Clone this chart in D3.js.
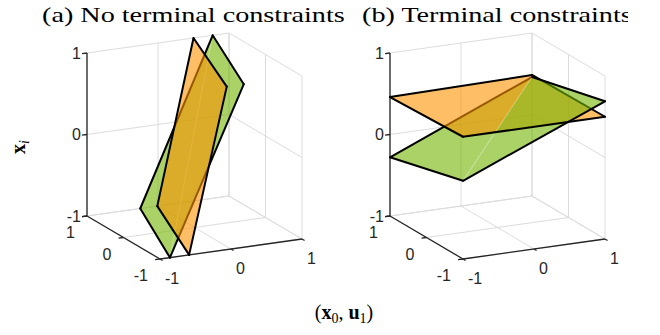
<!DOCTYPE html>
<html>
<head>
<meta charset="utf-8">
<script src="https://cdn.jsdelivr.net/npm/d3@7"></script>
<style>
  body { margin: 0; background: #fff; }
  svg { display: block; }
</style>
</head>
<body>
<script>
var W = 660, H = 335;

// ticks shared by the three axes (x0, u1, xi)
var tickValues = [-1, 0, 1];
var tickLabels = ['-1', '0', '1'];

var panelTitles = ['(a) No terminal constraints', '(b) Terminal constraints'];

// polygon corners, order: top, right, bottom, left  (x0, u1, xi)
// panel (a): no terminal constraints (planes cut by the box)
var aOrangeX0 = [0.50, -0.06, -0.59, -0.01];
var aOrangeU1 = [1, -1, -1, 1];
var aOrangeXi = [1, 1, -1, -1];
var aGreenX0 = [0.77, 0.18, -0.86, -0.25];
var aGreenU1 = [1, -1, -1, 1];
var aGreenXi = [1, 1, -1, -1];
// panel (b): terminal constraints
var bOrangeX0 = [1, 1, -1, -1];
var bOrangeU1 = [1, -1, -1, 1];
var bOrangeXi = [0.485, 0.50, 0.50, 0.46];
var bGreenX0 = [1, 1, -1, -1];
var bGreenU1 = [1, -1, -1, 1];
var bGreenXi = [0.46, 0.69, -0.04, -0.28];

var COLORS = { orange: '#fc9300', green: '#71b400' };
var AXIS = '#262626', GRID = '#dcdcdc';
var SANS = "'Liberation Sans', Arial, sans-serif";
var SERIF = "'Liberation Serif', 'Times New Roman', serif";

// painting order of the translucent faces (corner indices) and edges (edge k joins corner k and k+1)
var surfaceSteps = [
  // (a) green lies behind orange
  [['fill', 'green', [0, 1, 2, 3]], ['seam', 'green'], ['edges', 'green', [0, 1, 2, 3]],
   ['fill', 'orange', [0, 1, 2, 3]], ['edges', 'orange', [0, 1, 2, 3]]],
  // (b) orange sits between the two triangles of the green patch
  [['fill', 'green', [0, 2, 3]], ['edges', 'green', [2, 3]],
   ['fill', 'orange', [0, 1, 2, 3]], ['edges', 'orange', [0, 2, 3]],
   ['fill', 'green', [0, 1, 2]], ['seam', 'green'], ['edges', 'green', [0, 1]],
   ['edges', 'orange', [1]]]
];

var svg = d3.select('body').append('svg')
    .attr('width', W).attr('height', H);

// plot box: screen vectors of the full x0, u1 and xi ranges
var ex = [142, -20], ey = [-73, -43], ez = [0, -163];
var panelOrigins = [[160, 259], [463, 259]];

var sx = d3.scaleLinear().domain([-1, 1]).range([0, 1]);
var sy = d3.scaleLinear().domain([-1, 1]).range([0, 1]);
var sz = d3.scaleLinear().domain([-1, 1]).range([0, 1]);

var projector = function(o) {
  return function(p) {
    var a = sx(p[0]), b = sy(p[1]), c = sz(p[2]);
    return [o[0] + a * ex[0] + b * ey[0] + c * ez[0],
            o[1] + a * ex[1] + b * ey[1] + c * ez[1]];
  };
};
var line = d3.line();

var zip = function(xs, ys, zs) {
  return xs.map(function(v, k) { return [v, ys[k], zs[k]]; });
};

var drawPanel = function(i, surfaces) {
  var proj = projector(panelOrigins[i]);
  var g = svg.append('g');

  // back walls and floor grid
  var gridSegs = [];
  tickValues.forEach(function(t) {
    gridSegs.push([[t, 1, -1], [t, 1, 1]], [[-1, 1, t], [1, 1, t]],
                  [[1, t, -1], [1, t, 1]], [[1, -1, t], [1, 1, t]],
                  [[t, -1, -1], [t, 1, -1]], [[-1, t, -1], [1, t, -1]]);
  });
  g.append('g').selectAll('path').data(gridSegs).join('path')
      .attr('d', function(s) { return line(s.map(proj)); })
      .attr('fill', 'none').attr('stroke', GRID).attr('stroke-width', 1);

  // axis lines and ticks
  var axisSegs = [[[-1, 1, -1], [-1, 1, 1]],
                  [[-1, -1, -1], [-1, 1, -1]],
                  [[-1, -1, -1], [1, -1, -1]]];
  var tl = 0.07;
  tickValues.forEach(function(t) {
    axisSegs.push([[-1, 1, t], [-1 - tl, 1, t]]);
    axisSegs.push([[-1, t, -1], [-1 - tl, t, -1]]);
    axisSegs.push([[t, -1, -1], [t, -1 - tl, -1]]);
  });
  g.append('g').selectAll('path').data(axisSegs).join('path')
      .attr('d', function(s) { return line(s.map(proj)); })
      .attr('fill', 'none').attr('stroke', AXIS).attr('stroke-width', 1.3);

  var labels = g.append('g').style('font-family', SANS).style('font-size', '16px')
      .attr('fill', AXIS);
  tickValues.forEach(function(t, k) {
    var pz = proj([-1, 1, t]), py = proj([-1, t, -1]), px = proj([t, -1, -1]);
    labels.append('text').attr('x', pz[0] - 6).attr('y', pz[1] + 5.5)
        .attr('text-anchor', 'end').text(tickLabels[k]);
    labels.append('text').attr('x', py[0] - 12).attr('y', py[1] + 22)
        .attr('text-anchor', 'end').text(tickLabels[k]);
    labels.append('text').attr('x', px[0] + 5).attr('y', px[1] + 24.5)
        .attr('text-anchor', 'start').text(tickLabels[k]);
  });

  // translucent patches
  var surf = g.append('g');
  surfaceSteps[i].forEach(function(step) {
    var pts = surfaces[step[1]];
    if (step[0] === 'fill') {
      surf.append('path')
          .attr('d', line(step[2].map(function(k) { return proj(pts[k]); })) + 'Z')
          .attr('fill', COLORS[step[1]]).attr('fill-opacity', 0.6).attr('stroke', 'none');
    } else if (step[0] === 'seam') {
      surf.append('path').attr('d', line([pts[0], pts[2]].map(proj)))
          .attr('stroke', '#fff').attr('stroke-opacity', 0.45).attr('stroke-width', 0.8);
    } else {
      surf.append('g').selectAll('path').data(step[2]).join('path')
          .attr('d', function(k) { return line([pts[k], pts[(k + 1) % pts.length]].map(proj)); })
          .attr('fill', 'none').attr('stroke', '#000').attr('stroke-width', 2)
          .attr('stroke-linecap', 'round');
    }
  });
};

drawPanel(0, { orange: zip(aOrangeX0, aOrangeU1, aOrangeXi), green: zip(aGreenX0, aGreenU1, aGreenXi) });
drawPanel(1, { orange: zip(bOrangeX0, bOrangeU1, bOrangeXi), green: zip(bGreenX0, bGreenU1, bGreenXi) });

// titles (LaTeX look, stretched to the width in the figure)
svg.append('clipPath').attr('id', 'titleClip')
  .append('rect').attr('x', 0).attr('y', 0).attr('width', 628).attr('height', 40);
var titles = svg.append('g').attr('clip-path', 'url(#titleClip)')
    .style('font-family', SERIF).style('font-size', '22px').attr('fill', '#000');
var tA = titles.append('text').text(panelTitles[0]);
var k = 303 / tA.node().getComputedTextLength();
tA.attr('transform', 'translate(42,22) scale(' + k + ',1)');
titles.append('text').text(panelTitles[1])
    .attr('transform', 'translate(362,22) scale(' + k + ',1)');

// axis labels
var xl = svg.append('text').attr('x', 344).attr('y', 319).attr('text-anchor', 'middle')
    .style('font-family', SERIF).style('font-size', '20px');
xl.append('tspan').text('(');
xl.append('tspan').attr('font-weight', 'bold').text('x');
xl.append('tspan').attr('font-size', '14px').attr('dy', 4).text('0');
xl.append('tspan').attr('dy', -4).text(', ');
xl.append('tspan').attr('font-weight', 'bold').text('u');
xl.append('tspan').attr('font-size', '14px').attr('dy', 4).text('1');
xl.append('tspan').attr('dy', -4).text(')');

var yl = svg.append('text').attr('transform', 'translate(25,147) rotate(-90)')
    .attr('text-anchor', 'middle').style('font-family', SERIF).style('font-size', '20px');
yl.append('tspan').attr('font-weight', 'bold').text('x');
yl.append('tspan').attr('font-size', '14px').attr('font-style', 'italic').attr('dy', 4).text('i');
</script>
</body>
</html>
